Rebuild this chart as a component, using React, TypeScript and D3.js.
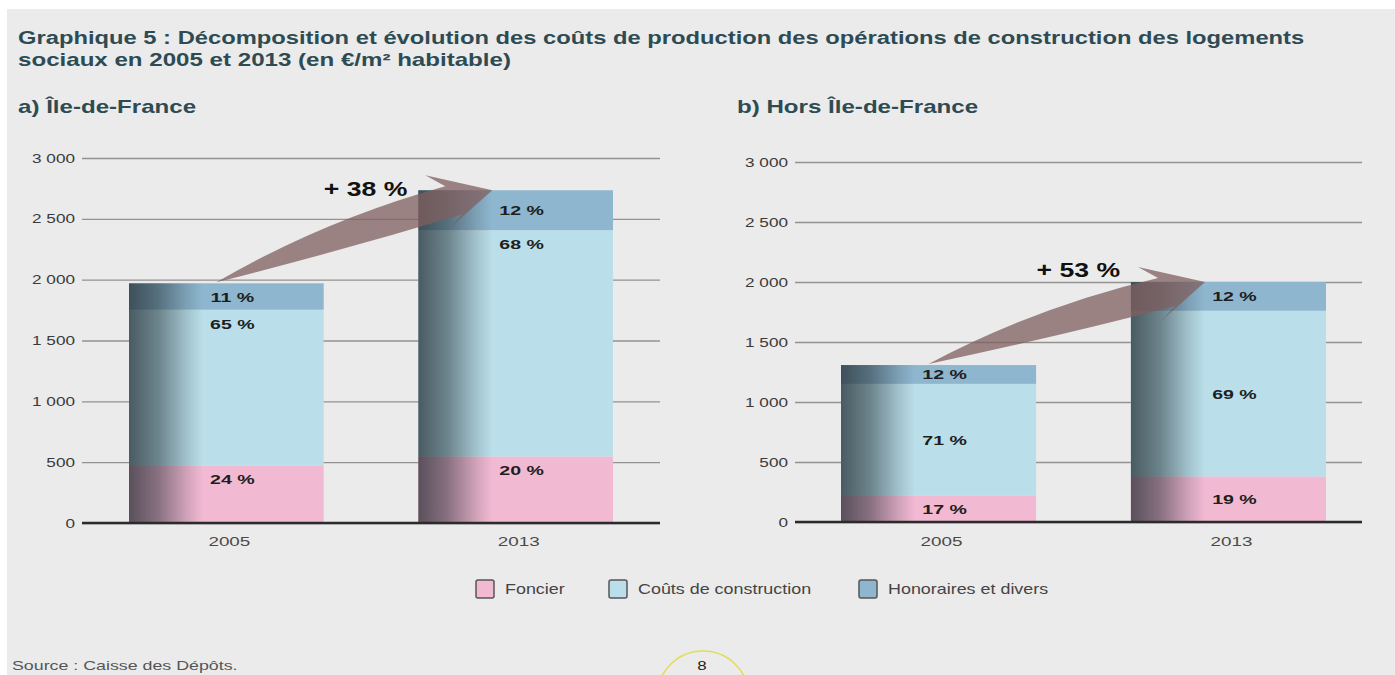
import * as d3 from "d3";
import { useEffect, useRef } from "react";

// categories and series
const categories = ["2005", "2013"];
const seriesNames = ["Foncier", "Coûts de construction", "Honoraires et divers"];
const seriesColors = ["#f2b9d3", "#badfea", "#8eb7cf"];

// €/m² habitable
const idfFoncier = [473, 547];
const idfConstruction = [1280, 1860];
const idfHonoraires = [217, 328];

const horsFoncier = [222, 380];
const horsConstruction = [929, 1380];
const horsHonoraires = [157, 240];

// printed shares (foncier, construction, honoraires)
const idfShares = [
	["24 %", "65 %", "11 %"],
	["20 %", "68 %", "12 %"],
];
const horsShares = [
	["17 %", "71 %", "12 %"],
	["19 %", "69 %", "12 %"],
];

const growthLabels = ["+ 38 %", "+ 53 %"];
const yTicks = [0, 500, 1000, 1500, 2000, 2500, 3000];
const yMax = 3000;

const FONT = "'Liberation Sans', Arial, Helvetica, sans-serif";
const SX = 1.32; // the source picture is stretched sideways
const fmt = d3.formatLocale({ decimal: ",", thousands: " ", grouping: [3], currency: ["", " €"] }).format(",");

const buildRows = (f, c, h) =>
	categories.map((cat, i) => ({ cat, [seriesNames[0]]: f[i], [seriesNames[1]]: c[i], [seriesNames[2]]: h[i] }));

const Txt = ({ x, y, sx = SX, anchor = "start", size = 13, weight = "normal", fill = "#333", children }) => (
	<text
		transform={`translate(${x},${y}) scale(${sx},1)`}
		textAnchor={anchor}
		fontFamily={FONT}
		fontSize={size}
		fontWeight={weight}
		fill={fill}
	>
		{children}
	</text>
);

const Panel = ({ title, titleX, rows, shares, growth, gridX0, gridX1, barX0, barX1, yTop, yBottom, labelMode, growthDy }) => {
	const axisRef = useRef(null);
	const y = d3.scaleLinear().domain([0, yMax]).range([yBottom, yTop]);
	const x = d3.scaleBand().domain(categories).range([barX0, barX1]).paddingInner(0.327).paddingOuter(0);
	const bw = x.bandwidth();
	const stacked = d3.stack().keys(seriesNames)(rows);
	const totals = rows.map((r) => seriesNames.reduce((s, k) => s + r[k], 0));

	useEffect(() => {
		const g = d3.select(axisRef.current);
		g.selectAll("*").remove();
		g.call(
			d3
				.axisLeft(y)
				.tickValues(yTicks)
				.tickSize(-(gridX1 - gridX0))
				.tickPadding(5.3)
				.tickFormat(fmt)
		);
		g.select(".domain").remove();
		g.selectAll(".tick line").attr("stroke", "#929292").attr("stroke-width", 1.3);
		g.selectAll(".tick text")
			.attr("fill", "#3a3a3a")
			.attr("transform", `scale(${SX},1)`)
			.style("font-family", FONT)
			.style("font-size", "13px");
	});

	// arrow geometry from the scales
	const T = [x(categories[0]) + bw / 2 - 10, y(totals[0]) - 1];
	const P = [x(categories[1]) + bw * 0.38, y(totals[1])];
	const S1 = [P[0] - 47, P[1] - 4];
	const B1 = [P[0] - 67, P[1] - 15];
	const B2 = [P[0] - 44, P[1] + 39];
	const S2 = [P[0] - 30, P[1] + 24];
	const c1 = [(T[0] + S1[0]) / 2 - 8, (T[1] + S1[1]) / 2 - 14];
	const c2 = [(T[0] + S2[0]) / 2 + 4, (T[1] + S2[1]) / 2 + 2];
	const arrow = d3.path();
	arrow.moveTo(T[0], T[1]);
	arrow.quadraticCurveTo(c1[0], c1[1], S1[0], S1[1]);
	arrow.lineTo(B1[0], B1[1]);
	arrow.lineTo(P[0], P[1]);
	arrow.lineTo(B2[0], B2[1]);
	arrow.lineTo(S2[0], S2[1]);
	arrow.quadraticCurveTo(c2[0], c2[1], T[0], T[1]);
	arrow.closePath();

	return (
		<g>
			<Txt x={titleX} y={113} sx={1.34} size={18} weight="bold" fill="#2e4b54">
				{title}
			</Txt>
			<g ref={axisRef} transform={`translate(${gridX0},0)`} />
			{stacked.map((layer, si) =>
				layer.map((d, ci) => (
					<rect
						key={`${si}-${ci}`}
						x={x(categories[ci])}
						y={y(d[1])}
						width={bw}
						height={y(d[0]) - y(d[1])}
						fill={seriesColors[si]}
					/>
				))
			)}
			{categories.map((cat, ci) => (
				<rect
					key={`shade-${cat}`}
					x={x(cat)}
					y={y(totals[ci])}
					width={bw}
					height={y(0) - y(totals[ci])}
					fill="url(#barShade)"
				/>
			))}
			<line x1={gridX0} x2={gridX1} y1={y(0)} y2={y(0)} stroke="#2b2b2b" strokeWidth={2.5} />
			{stacked.map((layer, si) =>
				layer.map((d, ci) => {
					const top = y(d[1]);
					const bot = y(d[0]);
					const mid = si === 2 || labelMode === "middle";
					const ty = mid ? (top + bot) / 2 + 5 : top + 19;
					return (
						<Txt
							key={`lab-${si}-${ci}`}
							x={x(categories[ci]) + bw / 2 + 6}
							y={ty}
							sx={1.45}
							anchor="middle"
							size={13.5}
							weight="bold"
							fill="#1e1e1e"
						>
							{shares[ci][si]}
						</Txt>
					);
				})
			)}
			{categories.map((cat) => (
				<Txt key={`x-${cat}`} x={x(cat) + bw / 2 + 3} y={546} sx={1.45} anchor="middle" size={13} fill="#4a4a4a">
					{cat}
				</Txt>
			))}
			<path d={arrow.toString()} fill="rgb(128,95,95)" fillOpacity={0.75} />
			<Txt x={P[0] - 85} y={P[1] + growthDy} sx={1.33} anchor="end" size={20} weight="bold" fill="#111">
				{growth}
			</Txt>
		</g>
	);
};

const App = () => {
	const legendX = [476, 609, 859];
	return (
		<svg width={1395} height={675} style={{ display: "block", position: "absolute", left: 0, top: 0 }}>
			<defs>
				<linearGradient id="barShade" x1="0" x2="1" y1="0" y2="0">
					<stop offset="0" stopColor="#1e282d" stopOpacity={0.72} />
					<stop offset="0.15" stopColor="#1e282d" stopOpacity={0.5} />
					<stop offset="0.3" stopColor="#1e282d" stopOpacity={0.15} />
					<stop offset="0.38" stopColor="#1e282d" stopOpacity={0} />
				</linearGradient>
			</defs>
			<rect width={1395} height={675} fill="#ffffff" />
			<rect x={7} y={9} width={1388} height={666} fill="#ebebeb" />
			<Txt x={18} y={44} size={18} weight="bold" fill="#2e4b54" sx={1.32}>
				Graphique 5 : Décomposition et évolution des coûts de production des opérations de construction des logements
			</Txt>
			<Txt x={18} y={66} size={18} weight="bold" fill="#2e4b54" sx={1.34}>
				sociaux en 2005 et 2013 (en €/m² habitable)
			</Txt>
			<Panel
				title="a) Île-de-France"
				titleX={18}
				rows={buildRows(idfFoncier, idfConstruction, idfHonoraires)}
				shares={idfShares}
				growth={growthLabels[0]}
				gridX0={82}
				gridX1={660}
				barX0={129}
				barX1={613}
				yTop={158}
				yBottom={523}
				labelMode="top"
				growthDy={6}
			/>
			<Panel
				title="b) Hors Île-de-France"
				titleX={737}
				rows={buildRows(horsFoncier, horsConstruction, horsHonoraires)}
				shares={horsShares}
				growth={growthLabels[1]}
				gridX0={795}
				gridX1={1362}
				barX0={841}
				barX1={1326}
				yTop={162}
				yBottom={522}
				labelMode="middle"
				growthDy={-5}
			/>
			{seriesNames.map((name, i) => (
				<g key={name}>
					<rect
						x={legendX[i]}
						y={580}
						width={18}
						height={18}
						rx={2}
						fill={seriesColors[i]}
						stroke="#555"
						strokeWidth={1.5}
					/>
					<Txt x={legendX[i] + 29} y={594} size={14} sx={1.28} fill="#444">
						{name}
					</Txt>
				</g>
			))}
			<Txt x={12} y={670} size={13} sx={1.37} fill="#555">
				Source : Caisse des Dépôts.
			</Txt>
			<circle cx={703} cy={697} r={46} fill="none" stroke="#e2dc55" strokeWidth={1.5} />
			<Txt x={702} y={670} anchor="middle" size={13} sx={1.3} fill="#222">
				8
			</Txt>
		</svg>
	);
};

export default App;
